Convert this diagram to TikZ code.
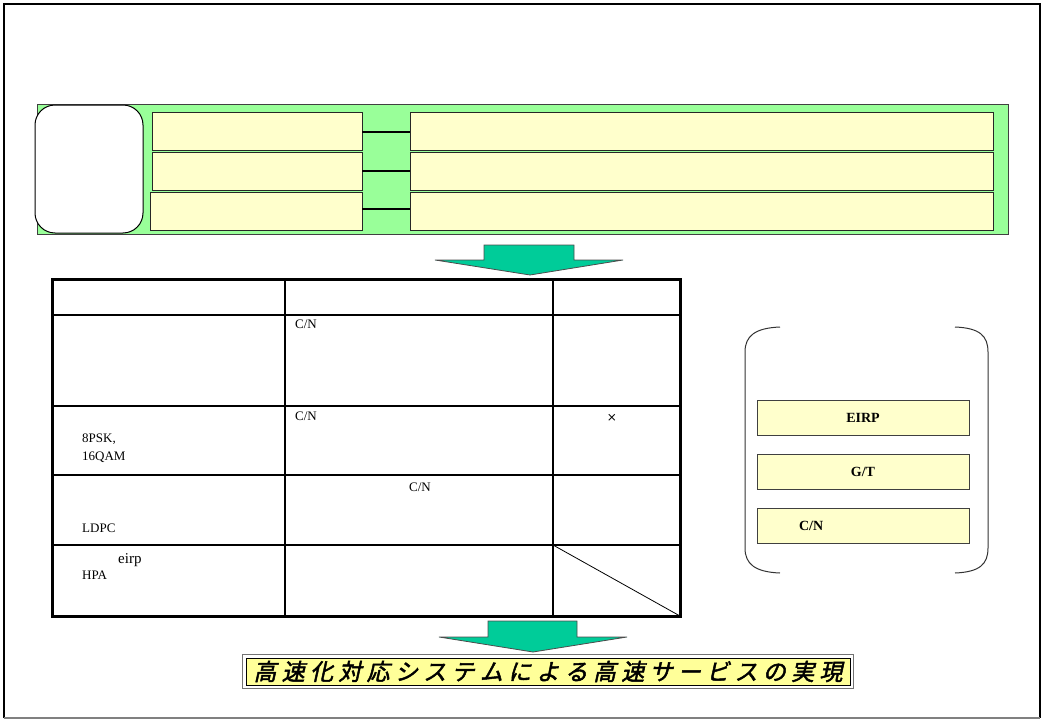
\documentclass[tikz,border=0pt]{standalone}
\usepackage{fontspec}
\setmainfont{Liberation Serif}
\newfontfamily\jpfont[FakeSlant=0.22,FakeBold=2]{Noto Sans CJK JP}
\newfontfamily\symfont{DejaVu Sans}
\definecolor{bandgreen}{HTML}{99FF99}
\definecolor{paleyellow}{HTML}{FFFFCC}
\definecolor{titleyellow}{HTML}{FFFF99}
\definecolor{arrowgreen}{HTML}{00CC99}
\newcommand\jc[1]{\makebox[28.3pt]{#1}}
\tikzset{
  ybox/.style={draw=black!85, fill=paleyellow, line width=0.9pt, inner sep=0pt, outer sep=0pt},
  link/.style={draw=black, line width=1.4pt},
  bigarrow/.style={draw=black!70, fill=arrowgreen, line width=0.8pt, line join=miter},
  cell/.style={inner sep=0pt, font=\fontsize{13}{15}\selectfont},
  tblout/.style={line width=3pt},
  tblh/.style={line width=2.4pt},
  tblv/.style={line width=1.6pt},
  brkt/.style={draw=black!80, line width=1pt},
  pbox/.style={draw=black!75, fill=paleyellow, line width=0.9pt, inner sep=0pt, outer sep=0pt,
    minimum width=212pt, minimum height=35pt, font=\fontsize{14}{16}\selectfont\bfseries}
}
\begin{document}
\begin{tikzpicture}[x=1pt,y=-1pt]
\useasboundingbox (0,0) rectangle (1042,720);
% outer frame
\draw[line width=2.4pt] (4,718) -- (4,4) -- (1040,4) -- (1040,718);
\draw[black!50, line width=1.2pt] (4,718) -- (1040,718);

% green band
\node[draw=black!75, fill=bandgreen, line width=1pt, inner sep=0pt, minimum width=971pt, minimum height=130pt] (band) at (522.5,169) {};
\node[draw=black, fill=white, line width=1pt, rounded corners=20pt, inner sep=0pt, minimum width=108pt, minimum height=128pt] (lbox) at (89,169) {};

% yellow rows
\node[ybox, minimum width=210pt, minimum height=38pt] (l1) at (257,131) {};
\node[ybox, minimum width=210pt, minimum height=38pt] (l2) at (257,171) {};
\node[ybox, minimum width=212pt, minimum height=38pt] (l3) at (256,211) {};
\node[ybox, minimum width=583pt, minimum height=38pt] (r1) at (701.5,131) {};
\node[ybox, minimum width=583pt, minimum height=38pt] (r2) at (701.5,171) {};
\node[ybox, minimum width=583pt, minimum height=38pt] (r3) at (701.5,211) {};
\draw[link] ([yshift=-1pt]l1.east) -- ([yshift=-1pt]r1.east -| r1.west);
\draw[link] (l2.east) -- (l2.east -| r2.west);
\draw[link] ([yshift=2pt]l3.east) -- ([yshift=2pt]l3.east -| r3.west);

% arrow 1
\draw[bigarrow] (484,245) -- (574,245) -- (574,260) -- (623,260) -- (530,275) -- (435,260) -- (484,260) -- cycle;

% table
\coordinate (t00) at (52,279);
\coordinate (t11) at (680,616);
\draw[tblh] (52,315) -- (680,315);
\draw[tblh] (52,406) -- (680,406);
\draw[tblh] (52,475) -- (680,475);
\draw[tblh] (52,545) -- (680,545);
\draw[tblv] (285,279) -- (285,616);
\draw[tblv] (553,279) -- (553,616);
\draw[line width=0.8pt] (553,545) -- (680,616);
\draw[tblout] (t00) rectangle (t11);

\node[cell, anchor=north west] (c1) at (295,320) {C/N};
\node[cell, anchor=north west] (c2) at (295,412) {C/N};
\node[cell, anchor=north] (x2) at (612,414) {\symfont\fontsize{12}{14}\selectfont ×};
\node[cell, anchor=north west] (p1) at (82,434) {8PSK,};
\node[cell, anchor=north west] (p2) at (82,452) {16QAM};
\node[cell, anchor=north] (c3) at (420,483) {C/N};
\node[cell, anchor=north west] (ld) at (82,524) {LDPC};
\node[cell, anchor=north west, font=\fontsize{15}{17}\selectfont] (ei) at (118,553) {eirp};
\node[cell, anchor=north west] (hp) at (82,571) {HPA};

% right bracket panel
\draw[brkt] (780,327) .. controls (755,328) and (745,336) .. (745,352) -- (745,548) .. controls (745,564) and (755,572) .. (780,573);
\draw[brkt] (955,327) .. controls (980,328) and (988,336) .. (988,352) -- (988,548) .. controls (988,564) and (980,572) .. (955,573);
\node[pbox] (eirp) at (863,417.5) {EIRP};
\node[pbox] (gt) at (863,471.5) {G/T};
\node[pbox, text width=212pt, align=left] (cn) at (863,526) {\hspace*{42pt}C/N};

% arrow 2
\draw[bigarrow] (488,621) -- (577,621) -- (577,637) -- (627,637) -- (533,652) -- (439,637) -- (488,637) -- cycle;

% title
\node[draw=black, fill=titleyellow, line width=1pt, inner sep=0pt, minimum width=604pt, minimum height=27pt] (title) at (548,671.5)
  {\jpfont\fontsize{23}{25}\selectfont\jc{高}\jc{速}\jc{化}\jc{対}\jc{応}\jc{シ}\jc{ス}\jc{テ}\jc{ム}\jc{に}\jc{よ}\jc{る}\jc{高}\jc{速}\jc{サ}\jc{ー}\jc{ビ}\jc{ス}\jc{の}\jc{実}\jc{現}};
\draw[black!55, line width=0.8pt] ([xshift=-3pt,yshift=3pt]title.north west) rectangle ([xshift=3pt,yshift=-3pt]title.south east);
\end{tikzpicture}
\end{document}
